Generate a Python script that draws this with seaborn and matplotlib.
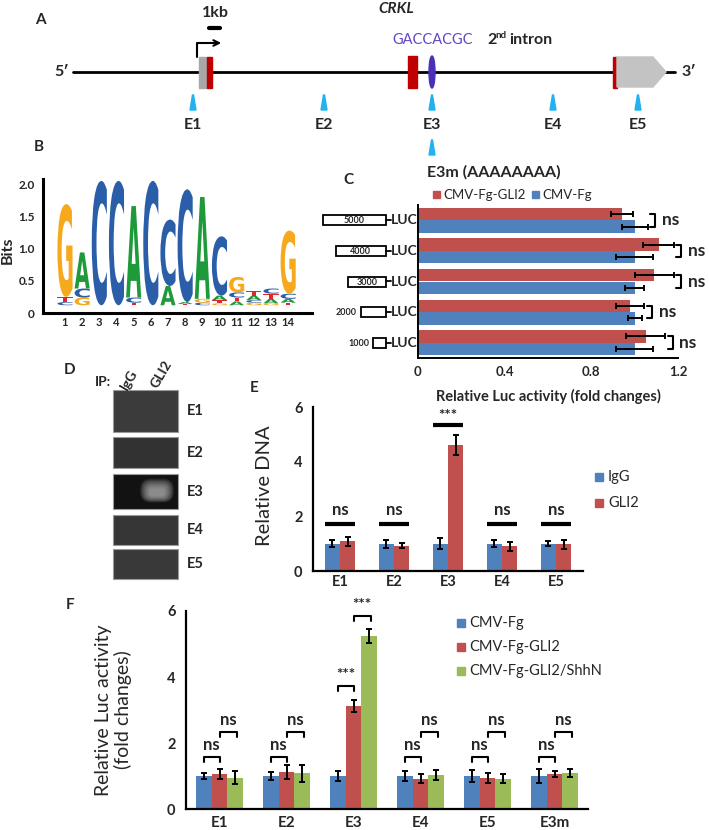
import numpy as np
import pandas as pd
import matplotlib
matplotlib.use("Agg")
import matplotlib.pyplot as plt
import matplotlib.transforms as mtransforms
from matplotlib.patches import Rectangle, Polygon, Ellipse, PathPatch, FancyBboxPatch
from matplotlib.textpath import TextPath
from matplotlib.font_manager import FontProperties
import seaborn as sns

# ---------------- data ----------------
# A: CRKL locus, sites along the schematic (figure px)
site_names = ["E1", "E2", "E3", "E4", "E5"]
site_x = [193, 324, 432, 553, 638]

# B: motif logo, each stack listed bottom -> top
logo_letters = ["CTG", "GCA", "C", "C", "TCA", "C", "AC", "TAC",
                "CGA", "GTAC", "ATCG", "GCAT", "GATC", "TACG"]
logo_bits = [
    [0.05, 0.08, 1.44],
    [0.12, 0.14, 0.56],
    [1.93],
    [1.93],
    [0.04, 0.08, 1.42],
    [1.93],
    [0.30, 1.03],
    [0.02, 0.03, 1.75],
    [0.04, 0.06, 1.58],
    [0.03, 0.05, 0.07, 0.92],
    [0.06, 0.06, 0.08, 0.24],
    [0.04, 0.04, 0.07, 0.07],
    [0.03, 0.07, 0.08, 0.08],
    [0.04, 0.06, 0.08, 0.98],
]

# C: promoter deletion reporters
c_constructs = ["5000", "4000", "3000", "2000", "1000"]
c_lengths = [5000, 4000, 3000, 2000, 1000]
c_gli2 = [0.94, 1.11, 1.09, 0.98, 1.05]
c_gli2_err = [0.05, 0.07, 0.09, 0.065, 0.09]
c_fg = [1.00, 1.00, 1.00, 1.00, 1.00]
c_fg_err = [0.06, 0.085, 0.045, 0.032, 0.085]
c_sig = ["ns", "ns", "ns", "ns", "ns"]

# D: ChIP gel (band intensity per row / lane)
gel_rows = ["E1", "E2", "E3", "E4", "E5"]
gel_lanes = ["IgG", "GLI2"]
gel_bg = ["#3b3b3b", "#323232", "#121212", "#363636", "#393939"]
gel_band = [[0, 0], [0, 0], [0.06, 1.0], [0, 0], [0, 0]]

# E: ChIP-qPCR
e_sites = ["E1", "E2", "E3", "E4", "E5"]
e_igg = [1.00, 1.00, 1.00, 1.00, 1.00]
e_igg_err = [0.13, 0.15, 0.20, 0.13, 0.10]
e_gli2 = [1.08, 0.93, 4.62, 0.90, 0.97]
e_gli2_err = [0.15, 0.10, 0.37, 0.17, 0.17]
e_sig_y = [1.72, 1.72, 5.35, 1.72, 1.72]
e_sig = ["ns", "ns", "***", "ns", "ns"]

# F: luciferase reporters
f_sites = ["E1", "E2", "E3", "E4", "E5", "E3m"]
f_fg = [1.00, 1.00, 1.00, 1.00, 1.00, 1.00]
f_fg_err = [0.10, 0.12, 0.15, 0.15, 0.18, 0.20]
f_gli2 = [1.05, 1.12, 3.12, 0.92, 0.93, 1.06]
f_gli2_err = [0.15, 0.20, 0.18, 0.13, 0.15, 0.10]
f_shh = [0.95, 1.08, 5.24, 1.02, 0.92, 1.08]
f_shh_err = [0.20, 0.25, 0.20, 0.15, 0.13, 0.12]
f_sig1_y = [1.58, 1.58, 3.73, 1.58, 1.58, 1.58]
f_sig1 = ["ns", "ns", "***", "ns", "ns", "ns"]
f_sig2_y = [2.33, 2.33, 5.85, 2.33, 2.33, 2.33]
f_sig2 = ["ns", "ns", "***", "ns", "ns", "ns"]

# ---------------- style ----------------
BLUE, RED, GREEN = "#4F81BD", "#C0504D", "#9BBB59"
sns.set_style("white")
plt.rcParams["font.family"] = ["Lato", "DejaVu Sans"]
plt.rcParams["font.weight"] = "bold"
plt.rcParams["axes.labelweight"] = "bold"

W, H = 709, 830
fig = plt.figure(figsize=(W / 100, H / 100), dpi=100)

ov = fig.add_axes([0, 0, 1, 1], zorder=0)
ov.set_xlim(0, W)
ov.set_ylim(H, 0)
ov.axis("off")


def px_axes(l, t, r, b):
    ax = fig.add_axes([l / W, 1 - b / H, (r - l) / W, (b - t) / H], zorder=1)
    ax.patch.set_alpha(0)
    return ax


def style_axes(ax, lw=1.6):
    sns.despine(ax=ax)
    for s in ["left", "bottom"]:
        ax.spines[s].set_linewidth(lw)
        ax.spines[s].set_color("black")


# panel letters
for lab, (x, y) in {"A": (40, 20), "B": (39, 147), "C": (348, 180),
                    "D": (70, 370), "E": (254, 388), "F": (70, 605)}.items():
    ov.text(x, y, lab, fontsize=11, ha="center", va="center")

# ---------------- A: gene schematic ----------------
ov.plot([73, 675], [72, 72], color="black", lw=2, zorder=1)
ov.text(69, 72, "5\u2032", fontsize=11.5, ha="right", va="center")
ov.text(681, 72, "3\u2032", fontsize=11.5, ha="left", va="center")
ov.add_patch(Rectangle((199, 57), 8, 31, color="#a8a8a8", zorder=2))
ov.add_patch(Rectangle((207, 57), 5, 31, color="#c00000", zorder=2))
ov.add_patch(Rectangle((408, 56), 9, 32, color="#c00000", zorder=2))
ov.add_patch(Ellipse((432, 72), 6, 32, color="#4b30b5", zorder=2))
ov.add_patch(Rectangle((613, 57), 4, 31, color="#c00000", zorder=2))
ov.add_patch(Polygon([(617, 57), (653, 57), (666, 72), (653, 87), (617, 87)],
                     closed=True, color="#c3c3c3", zorder=2))
# TSS arrow and scale bar
ov.plot([197, 197, 216], [57, 43, 43], color="black", lw=1.5)
ov.annotate("", xy=(224, 43), xytext=(212, 43),
            arrowprops=dict(arrowstyle="->", lw=1.5, color="black"))
ov.plot([209, 220], [28, 28], color="black", lw=3)
ov.text(215, 13, "1kb", fontsize=11.5, ha="center", va="center")
ov.text(396, 9, "CRKL", fontsize=11, style="italic", ha="center", va="center")
ov.text(433, 40, "GACCACGC", fontsize=10.5, weight="normal", color="#6347c4",
        ha="center", va="center")
ov.text(487, 40, "2", fontsize=11.5, ha="left", va="center")
ov.text(495, 35, "nd", fontsize=7, ha="left", va="center")
ov.text(509, 40, "intron", fontsize=11.5, ha="left", va="center")
for name, x in zip(site_names, site_x):
    ov.add_patch(Polygon([(x - 3, 110), (x + 3, 110), (x + 0.5, 95), (x - 0.5, 95)],
                         closed=True, color="#22b2f0"))
    ov.text(x, 125, name, fontsize=11.5, ha="center", va="center")
x3 = site_x[2]
ov.add_patch(Polygon([(x3 - 3, 155), (x3 + 3, 155), (x3 + 0.5, 140), (x3 - 0.5, 140)],
                     closed=True, color="#22b2f0"))
ov.text(427, 172, "E3m (AAAAAAAA)", fontsize=11.5, ha="left", va="center")

# ---------------- B: motif logo ----------------
axB = px_axes(43, 179, 312, 313)
logo_colors = {"A": "#1f9a3a", "C": "#2a5ea8", "G": "#f6a91c", "T": "#e0262b"}
fp_logo = FontProperties(family="DejaVu Sans", weight="bold")


def draw_letter(ax, ch, xc, y0, w, h, color):
    tp = TextPath((0, 0), ch, size=1, prop=fp_logo)
    bb = tp.get_extents()
    tr = (mtransforms.Affine2D().translate(-bb.x0, -bb.y0)
          .scale(w / bb.width, h / bb.height).translate(xc - w / 2, y0))
    ax.add_patch(PathPatch(tr.transform_path(tp), fc=color, ec="none", lw=0))


for pos, (letters, bits) in enumerate(zip(logo_letters, logo_bits), start=1):
    y0 = 0.12
    for ch, b in zip(letters, bits):
        draw_letter(axB, ch, pos, y0, 0.88, b, logo_colors[ch])
        y0 += b
axB.set_xlim(-0.28, 15.39)
axB.set_ylim(0, 2.08)
axB.set_xticks(range(1, 15))
axB.set_xticklabels([str(i) for i in range(1, 15)], fontsize=8)
axB.set_yticks([0, 0.5, 1.0, 1.5, 2.0])
axB.set_yticklabels(["0", "0.5", "1.0", "1.5", "2.0"], fontsize=8.5)
axB.tick_params(axis="x", length=0, pad=3)
axB.tick_params(axis="y", direction="in", length=4, width=1.8, pad=6)
style_axes(axB, lw=2.2)
axB.set_ylabel("Bits", fontsize=11.5)
axB.yaxis.set_label_coords(-0.105, 0.47)

# ---------------- C: deletion reporters ----------------
cT, cB = 205, 358
axC = px_axes(418, cT, 678, cB)
df_c = pd.DataFrame({
    "construct": c_constructs * 2,
    "group": ["CMV-Fg-GLI2"] * 5 + ["CMV-Fg"] * 5,
    "value": c_gli2 + c_fg,
})
sns.barplot(data=df_c, x="value", y="construct", hue="group", orient="h",
            order=c_constructs, hue_order=["CMV-Fg-GLI2", "CMV-Fg"],
            palette={"CMV-Fg-GLI2": RED, "CMV-Fg": BLUE}, width=0.82,
            saturation=1, errorbar=None, legend=False, linewidth=0, ax=axC)
centers = []
for cont, errs in zip(axC.containers, [c_gli2_err, c_fg_err]):
    row = []
    for bar, e in zip(cont, errs):
        yc = bar.get_y() + bar.get_height() / 2
        axC.errorbar(bar.get_width(), yc, xerr=e, fmt="none", ecolor="black",
                     elinewidth=1.4, capsize=2.5, capthick=1.4)
        row.append(yc)
    centers.append(row)
for i, lab in enumerate(c_sig):
    bx = max(c_gli2[i] + c_gli2_err[i], c_fg[i] + c_fg_err[i]) + 0.035
    y1, y2 = centers[0][i], centers[1][i]
    axC.plot([bx - 0.022, bx, bx, bx - 0.022], [y1, y1, y2, y2],
             color="black", lw=1.5, clip_on=False)
    axC.text(bx + 0.03, (y1 + y2) / 2, lab, fontsize=12.5, ha="left", va="center")
axC.set_xlim(0, 1.2)
axC.set_ylim(4.5, -0.5)
axC.set_xticks([0, 0.4, 0.8, 1.2])
axC.set_xticklabels(["0", "0.4", "0.8", "1.2"], fontsize=9.5)
axC.set_yticks([])
axC.set_yticks(np.arange(-0.5, 5, 1), minor=True)
axC.tick_params(axis="y", which="minor", length=4, width=1.2)
axC.tick_params(axis="x", length=3, width=1.2, pad=3)
axC.set_ylabel("")
axC.set_xlabel("Relative Luc activity (fold changes)", fontsize=10.5)
axC.xaxis.set_label_coords(0.5, -0.2)
style_axes(axC, lw=1.4)
# construct cartoons as category labels
step = (cB - cT) / len(c_constructs)
for i, (name, length) in enumerate(zip(c_constructs, c_lengths)):
    yc = cT + (i + 0.5) * step
    bw = length / 1000 * 12.6
    ov.add_patch(Rectangle((386 - bw, yc - 5), bw, 10, fc="white", ec="black", lw=1.3))
    if bw > 30:
        ov.text(386 - bw / 2, yc + 0.5, name, fontsize=6.5, ha="center", va="center")
    else:
        ov.text(386 - bw - 4, yc + 0.5, name, fontsize=6.5, ha="right", va="center")
    ov.plot([386, 391], [yc, yc], color="black", lw=1.3)
    ov.text(391, yc, "LUC", fontsize=10, ha="left", va="center")
# legend
ov.add_patch(Rectangle((433, 191), 7, 7, color=RED))
ov.text(443, 195, "CMV-Fg-GLI2", fontsize=9.5, weight="normal", ha="left", va="center")
ov.add_patch(Rectangle((532, 191), 7, 7, color=BLUE))
ov.text(542, 195, "CMV-Fg", fontsize=9.5, weight="normal", ha="left", va="center")

# ---------------- D: gel ----------------
gel_y = [(390, 432), (437, 468), (474, 509), (515, 545), (549, 579)]
lane_x = [129, 157]
ov.text(103, 382, "IP:", fontsize=10, ha="center", va="center")
for lane, (x, y) in zip(gel_lanes, [(127, 391), (157, 389)]):
    ov.text(x, y, lane, fontsize=10, rotation=60, rotation_mode="anchor",
            ha="left", va="baseline")
for r, name in enumerate(gel_rows):
    t, b = gel_y[r]
    ov.add_patch(Rectangle((113, t), 65, b - t, fc=gel_bg[r], ec="#9a9a9a", lw=0.8))
    for l, inten in enumerate(gel_band[r]):
        if inten <= 0:
            continue
        cy = (t + b) / 2 - 1
        # soft glowing band: many faint rounded layers
        for k in range(14):
            dw = 34 - 1.5 * k
            dh = 24 - 1.3 * k
            ov.add_patch(FancyBboxPatch((lane_x[l] - dw / 2, cy - dh / 2 + 0.15 * k), dw, dh,
                                        boxstyle="round,pad=0,rounding_size=%.1f" % (dh / 2.2),
                                        fc="#bdbdbd", ec="none", alpha=0.09 * inten,
                                        clip_on=True))
    ov.text(187, (t + b) / 2, name, fontsize=10.5, ha="left", va="center")

# ---------------- E: ChIP-qPCR ----------------
axE = px_axes(313, 407, 583, 571)
df_e = pd.DataFrame({
    "site": e_sites * 2,
    "group": ["IgG"] * 5 + ["GLI2"] * 5,
    "value": e_igg + e_gli2,
})
sns.barplot(data=df_e, x="site", y="value", hue="group", order=e_sites,
            hue_order=["IgG", "GLI2"], palette={"IgG": BLUE, "GLI2": RED},
            width=0.56, saturation=1, errorbar=None, legend=False, linewidth=0, ax=axE)
for cont, errs in zip(axE.containers, [e_igg_err, e_gli2_err]):
    for bar, e in zip(cont, errs):
        axE.errorbar(bar.get_x() + bar.get_width() / 2, bar.get_height(), yerr=e,
                     fmt="none", ecolor="black", elinewidth=1.4, capsize=2, capthick=1.4)
for i, (y, lab) in enumerate(zip(e_sig_y, e_sig)):
    axE.plot([i - 0.27, i + 0.27], [y, y], color="black", lw=3, solid_capstyle="butt")
    axE.text(i, y + (0.05 if lab == "***" else 0.22), lab, fontsize=12 if lab == "ns" else 11,
             ha="center", va="bottom")
axE.set_xlim(-0.5, 4.5)
axE.set_ylim(0, 6)
axE.set_yticks([0, 2, 4, 6])
axE.set_yticklabels(["0", "2", "4", "6"], fontsize=10.5)
axE.set_xticklabels(e_sites, fontsize=10.5)
axE.set_xticks(np.arange(-0.5, 5, 1), minor=True)
axE.tick_params(axis="x", which="major", length=0, pad=3)
axE.tick_params(axis="x", which="minor", length=3, width=1.2)
axE.tick_params(axis="y", length=4, width=1.2)
axE.set_xlabel("")
axE.set_ylabel("Relative DNA", fontsize=14.5, weight="normal")
axE.yaxis.set_label_coords(-0.15, 0.52)
style_axes(axE)
for lab, col, y in [("IgG", BLUE, 477), ("GLI2", RED, 503)]:
    ov.add_patch(Rectangle((595, y - 4), 8, 8, color=col))
    ov.text(608, y, lab, fontsize=10.5, weight="normal", ha="left", va="center")

# ---------------- F: luciferase ----------------
axF = px_axes(186, 611, 588, 809)
groups_f = ["CMV-Fg", "CMV-Fg-GLI2", "CMV-Fg-GLI2/ShhN"]
df_f = pd.DataFrame({
    "site": f_sites * 3,
    "group": [groups_f[0]] * 6 + [groups_f[1]] * 6 + [groups_f[2]] * 6,
    "value": f_fg + f_gli2 + f_shh,
})
sns.barplot(data=df_f, x="site", y="value", hue="group", order=f_sites,
            hue_order=groups_f, palette=dict(zip(groups_f, [BLUE, RED, GREEN])),
            width=0.69, saturation=1, errorbar=None, legend=False, linewidth=0, ax=axF)
bar_x = []
for cont, errs in zip(axF.containers, [f_fg_err, f_gli2_err, f_shh_err]):
    xs = []
    for bar, e in zip(cont, errs):
        xc = bar.get_x() + bar.get_width() / 2
        axF.errorbar(xc, bar.get_height(), yerr=e, fmt="none", ecolor="black",
                     elinewidth=1.4, capsize=2, capthick=1.4)
        xs.append(xc)
    bar_x.append(xs)


def bracket(ax, x1, x2, y, lab):
    ax.plot([x1, x1, x2, x2], [y - 0.15, y, y, y - 0.15], color="black", lw=1.5,
            clip_on=False)
    ax.text((x1 + x2) / 2, y + 0.12, lab, fontsize=12 if lab == "ns" else 11,
            ha="center", va="bottom")


for i in range(len(f_sites)):
    bracket(axF, bar_x[0][i], bar_x[1][i], f_sig1_y[i], f_sig1[i])
    bracket(axF, bar_x[1][i], bar_x[2][i] + 0.03, f_sig2_y[i], f_sig2[i])
axF.set_xlim(-0.5, 5.5)
axF.set_ylim(0, 6)
axF.set_yticks([0, 2, 4, 6])
axF.set_yticklabels(["0", "2", "4", "6"], fontsize=10.5)
axF.set_xticklabels(f_sites, fontsize=11)
axF.set_xticks(np.arange(-0.5, 6, 1), minor=True)
axF.tick_params(axis="x", which="major", length=0, pad=5)
axF.tick_params(axis="x", which="minor", length=3, width=1.2)
axF.tick_params(axis="y", length=4, width=1.2)
axF.set_xlabel("")
axF.set_ylabel("Relative Luc activity\n(fold changes)", fontsize=14, weight="normal",
               linespacing=1.1)
axF.yaxis.set_label_coords(-0.135, 0.5)
style_axes(axF)
for lab, col, y in zip(groups_f, [BLUE, RED, GREEN], [623, 647, 671]):
    ov.add_patch(Rectangle((457, y - 4), 8, 8, color=col))
    ov.text(469, y, lab, fontsize=10.5, weight="normal", ha="left", va="center")

fig.savefig("out.png", dpi=100)
